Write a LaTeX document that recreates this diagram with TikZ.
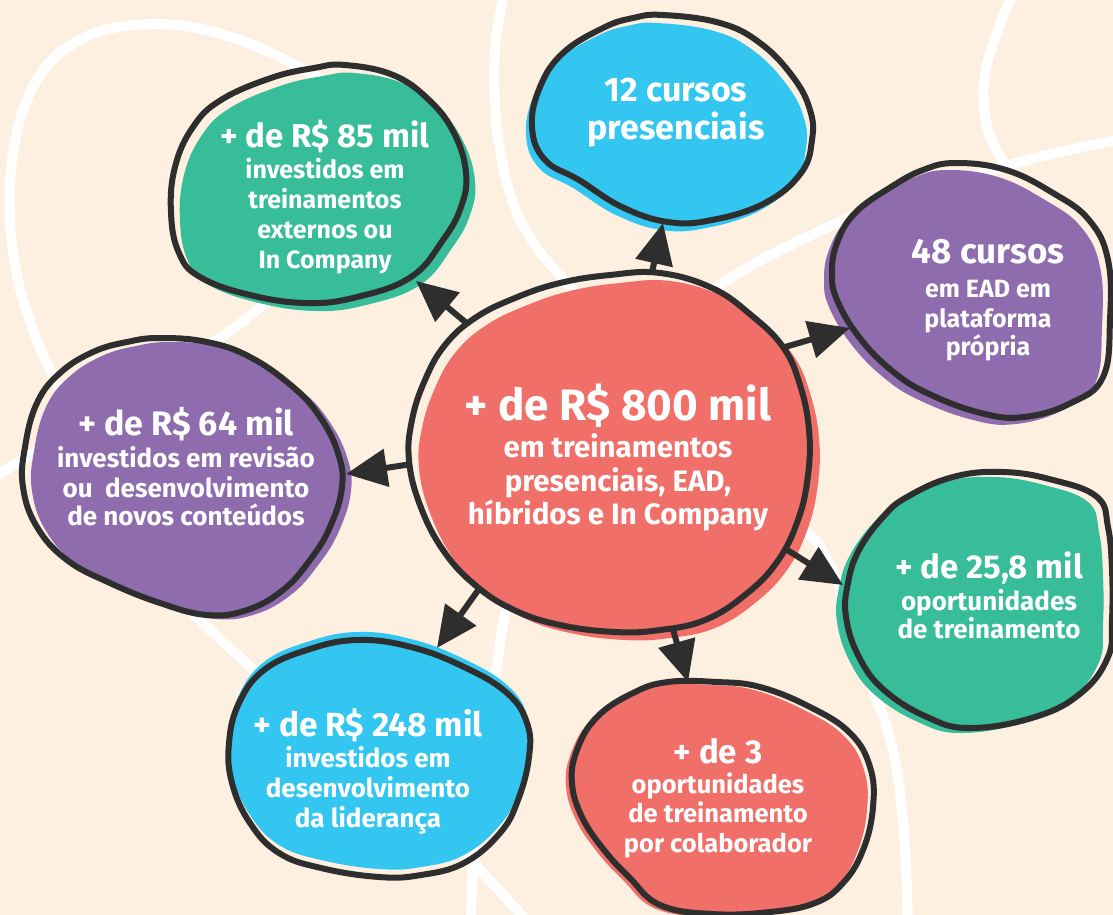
\documentclass[tikz,border=0pt]{standalone}
\usepackage{fontspec}
\setmainfont{Fira Sans}
\usetikzlibrary{arrows.meta}
\definecolor{bgc}{HTML}{FDF0E1}
\definecolor{grn}{HTML}{38BD9B}
\definecolor{blu}{HTML}{33C6F1}
\definecolor{pur}{HTML}{8F6CAE}
\definecolor{sal}{HTML}{F06F69}
\definecolor{ink}{HTML}{2E2E2E}
\newcommand\Ln[2]{\fontsize{#1}{0}\selectfont #2\par}
\newcommand\Sk[1]{\vskip #1pt}
\newcommand\btext[2][300]{\vtop{\hsize=#1pt\parskip=0pt\centering\lineskip=0pt\lineskiplimit=-\maxdimen\bfseries #2}}
\newcommand\drawblob[3]{%
  \fill[#1, shift={#2}] plot[smooth cycle, tension=.7] coordinates {#3};
  \draw[outl] plot[smooth cycle, tension=.7] coordinates {#3};}
\tikzset{
  outl/.style={ink, line width=6pt},
  wl/.style={white, line width=10pt, line cap=round},
  txt/.style={anchor=base, inner sep=0pt, outer sep=0pt, text=white},
  arr/.style={ink, line width=6pt, -{Triangle[length=41pt,width=37pt]}}
}
\begin{document}
\begin{tikzpicture}[x=1pt,y=-1pt]
\fill[bgc] (0,0) rectangle (1113,915);
\useasboundingbox (0,0) rectangle (1113,915);
% background white lines
\draw[wl] plot[smooth, tension=.6] coordinates {(330,85) (290,62) (240,40) (185,26) (135,25) (90,35) (50,62) (25,105) (12,160) (10,220) (18,280) (35,335) (60,390) (110,480) (165,580) (200,620) (257,673) (320,735) (400,800) (470,860) (530,925)};
\draw[wl] plot[smooth, tension=.6] coordinates {(-10,480) (30,455) (120,400) (217,340) (262,306) (310,270)};
\draw[wl] plot[smooth, tension=.6] coordinates {(505,-10) (495,50) (497,130) (512,200) (535,245) (560,275) (600,320)};
\draw[wl] plot[smooth, tension=.6] coordinates {(690,310) (712,290) (765,258) (848,218) (900,198) (1006,166) (1060,152) (1123,139)};
\draw[wl] plot[smooth, tension=.6] coordinates {(1015,-10) (998,30) (984,80) (988,130) (1006,166)};
\draw[wl] plot[smooth, tension=.6] coordinates {(510,590) (502,630) (495,680) (483,770) (474,840) (471,925)};
\draw[wl] plot[smooth, tension=.6] coordinates {(790,515) (805,530) (825,555) (848,610) (870,680) (893,750) (904,833) (908,925)};
% blobs
\drawblob{grn}{(9,8)}{(345,65) (393,75) (429,100) (454,133) (466,173) (461,207) (443,240) (411,277) (357,297) (307,303) (250,295) (200,277) (179,253) (171,213) (175,167) (193,127) (221,100) (271,78) (314,68)}
\drawblob{blu}{(-6,8)}{(663,15) (720,23) (760,43) (793,77) (810,110) (812,140) (801,173) (765,203) (712,220) (668,222) (622,207) (579,180) (545,160) (532,127) (540,87) (563,53) (603,28) (633,18)}
\drawblob{pur}{(-8,7)}{(956,163) (1006,170) (1053,193) (1089,220) (1108,260) (1110,320) (1103,377) (1071,403) (1024,417) (981,413) (927,393) (891,370) (859,337) (837,300) (832,273) (837,243) (855,213) (891,187) (923,170)}
\drawblob{pur}{(9,4)}{(160,338) (207,342) (250,357) (293,387) (320,417) (338,453) (342,487) (330,527) (310,560) (283,590) (247,610) (207,615) (160,603) (110,583) (67,560) (37,527) (23,487) (25,447) (37,403) (60,373) (93,352) (127,342)}
\drawblob{blu}{(0,-8)}{(357,640) (411,647) (464,667) (507,693) (527,723) (529,757) (518,800) (500,833) (464,863) (421,875) (379,877) (321,868) (279,853) (250,823) (232,783) (229,743) (239,703) (264,670) (307,650)}
\drawblob{sal}{(-6,3)}{(717,682) (760,687) (810,707) (850,733) (870,767) (873,807) (863,850) (843,883) (815,903) (770,912) (712,914) (660,905) (629,877) (604,850) (582,817) (572,783) (577,750) (597,717) (633,693) (668,682)}
\drawblob{grn}{(-9,5)}{(1003,472) (1053,480) (1097,497) (1108,527) (1112,570) (1112,620) (1108,657) (1081,693) (1035,717) (970,728) (927,717) (884,690) (859,657) (846,617) (848,583) (859,550) (883,517) (907,497) (953,477)}
\drawblob{sal}{(10,8)}{(610,275) (660,273) (712,288) (751,315) (783,347) (800,385) (809,430) (808,475) (798,520) (777,562) (745,595) (705,620) (660,630) (615,632) (560,625) (514,610) (475,585) (443,550) (420,505) (409,460) (412,420) (425,380) (445,345) (475,318) (515,298) (560,283)}
% texts
\node[txt] (nA) at (325,147) {\btext{\Ln{33}{+ de R\$ 85 mil}\Sk{31}\Ln{25}{investidos em}\Sk{30}\Ln{25}{treinamentos}\Sk{30}\Ln{25}{externos ou}\Sk{30}\Ln{25}{In Company}}};
\node[txt] (nB) at (676,102) {\btext{\Ln{34}{12 cursos}\Sk{38}\Ln{34}{presenciais}}};
\node[txt] (nC) at (988,263) {\btext{\Ln{35}{48 cursos}\Sk{34}\Ln{25}{em EAD em}\Sk{30}\Ln{25}{plataforma}\Sk{28}\Ln{25}{própria}}};
\node[txt] (nD) at (186,435) {\btext{\Ln{34}{+ de R\$ 64 mil}\Sk{32}\Ln{26}{investidos em revisão}\Sk{30}\Ln{26}{ou\ \ desenvolvimento}\Sk{28}\Ln{26}{de novos conteúdos}}};
\node[txt] (ctr) at (618,420) {\btext[320]{\Ln{44}{+ de R\$ 800 mil}\Sk{37}\Ln{29.5}{em treinamentos}\Sk{34}\Ln{29.5}{presenciais, EAD,}\Sk{33}\Ln{29.5}{híbridos e In Company}}};
\node[txt] (nE) at (368,736) {\btext{\Ln{33.5}{+ de R\$ 248 mil}\Sk{31}\Ln{26}{investidos em}\Sk{30}\Ln{26}{desenvolvimento}\Sk{30}\Ln{26}{da liderança}}};
\node[txt] (nF) at (718,763) {\btext{\Ln{33}{+ de 3}\Sk{30}\Ln{25.5}{oportunidades}\Sk{29}\Ln{25.5}{de treinamento}\Sk{30}\Ln{25.5}{por colaborador}}};
\node[txt] (nG) at (989,578) {\btext{\Ln{33}{+ de 25,8 mil}\Sk{32}\Ln{26}{oportunidades}\Sk{28}\Ln{26}{de treinamento}}};
% arrow tips
\coordinate (tA) at (416,281);
\coordinate (tB) at (663,223);
\coordinate (tC) at (850,328);
\coordinate (tD) at (346,474);
\coordinate (tE) at (437,648);
\coordinate (tF) at (688,682);
\coordinate (tG) at (843,585);
\begin{scope}[even odd rule]
\clip (-20,-20) rectangle (1133,935) plot[smooth cycle, tension=.7] coordinates {(610,275) (660,273) (712,288) (751,315) (783,347) (800,385) (809,430) (808,475) (798,520) (777,562) (745,595) (705,620) (660,630) (615,632) (560,625) (514,610) (475,585) (443,550) (420,505) (409,460) (412,420) (425,380) (445,345) (475,318) (515,298) (560,283)};
\draw[arr] (ctr.137.3) -- (tA);
\draw[arr] (ctr.83.7) -- (tB);
\draw[arr] (ctr.60.9) -- (tC);
\draw[arr] (ctr.180) -- (tD);
\draw[arr] (ctr.217.5) -- (tE);
\draw[arr] (ctr.-70.9) -- (tF);
\draw[arr] (ctr.-28.6) -- (tG);
\end{scope}
\end{tikzpicture}
\end{document}
